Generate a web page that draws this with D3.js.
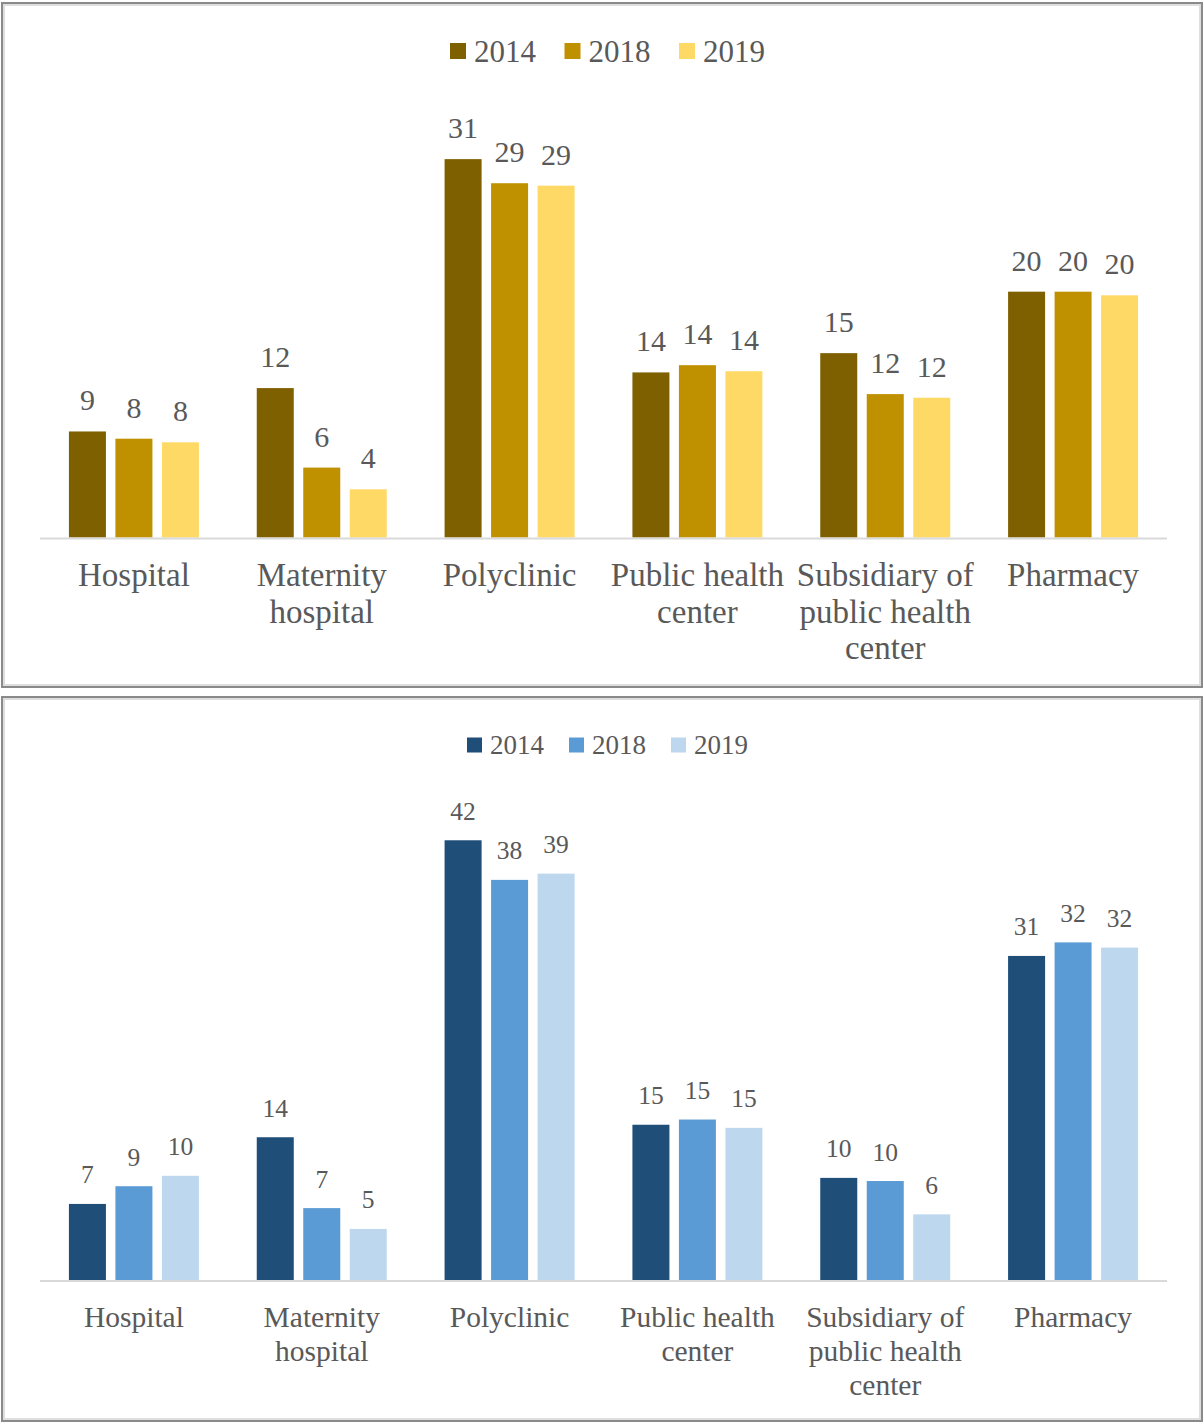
<!DOCTYPE html>
<html>
<head>
<meta charset="utf-8">
<script src="https://cdn.jsdelivr.net/npm/d3@7"></script>
<style>
  body { margin: 0; background: #fff; }
  svg text { font-family: 'Liberation Serif', 'Tinos', 'DejaVu Serif', serif; fill: #595959; }
</style>
</head>
<body>
<div id="chart"></div>
<script>
// categories, each split into the lines shown under the axis
const categories = ["Hospital", "Maternity hospital", "Polyclinic", "Public health center", "Subsidiary of public health center", "Pharmacy"];
const categoryLines = [["Hospital"], ["Maternity", "hospital"], ["Polyclinic"], ["Public health", "center"], ["Subsidiary of", "public health", "center"], ["Pharmacy"]];
const years = ["2014", "2018", "2019"];

// upper panel (gold)
const gold2014 = [8.8, 12.4, 31.4, 13.7, 15.3, 20.4];
const gold2018 = [8.2, 5.8, 29.4, 14.3, 11.9, 20.4];
const gold2019 = [7.9, 4.0, 29.2, 13.8, 11.6, 20.1];

// lower panel (blue)
const blue2014 = [7.3, 13.7, 42.2, 14.9, 9.8, 31.1];
const blue2018 = [9.0, 6.9, 38.4, 15.4, 9.5, 32.4];
const blue2019 = [10.0, 4.9, 39.0, 14.6, 6.3, 31.9];

const width = 1204, height = 1423;

const svg = d3.select("#chart")
    .append("svg")
    .attr("width", width)
    .attr("height", height);

function drawPanel(opt) {
    const g = svg.append("g");

    // frame (dark outer line + light inner line)
    g.append("rect")
        .attr("x", opt.box[0] + 1).attr("y", opt.box[1] + 1)
        .attr("width", opt.box[2] - 2).attr("height", opt.box[3] - 2)
        .attr("fill", "#fff")
        .attr("stroke", "#8a8a8a")
        .attr("stroke-width", 2);
    g.append("rect")
        .attr("x", opt.box[0] + 3).attr("y", opt.box[1] + 3)
        .attr("width", opt.box[2] - 6).attr("height", opt.box[3] - 6)
        .attr("fill", "none")
        .attr("stroke", "#dedede")
        .attr("stroke-width", 2);

    const x = d3.scaleBand()
        .domain(categories)
        .range([40, 1167]);

    const xSub = d3.scaleBand()
        .domain(years)
        .range([0, 130])
        .paddingInner(0.204);

    const y = d3.scaleLinear()
        .domain([0, opt.yMax])
        .range([opt.base, opt.base - opt.yMax * opt.pxPerUnit]);

    const color = d3.scaleOrdinal().domain(years).range(opt.colors);

    const rows = categories.map((c, i) => ({
        cat: c,
        vals: years.map((yr, j) => ({ year: yr, value: opt.series[j][i] }))
    }));

    const groups = g.selectAll("g.cat")
        .data(rows)
        .enter()
        .append("g")
        .attr("class", "cat")
        .attr("transform", d => `translate(${x(d.cat) + (x.bandwidth() - 130) / 2},0)`);

    groups.selectAll("rect")
        .data(d => d.vals)
        .enter()
        .append("rect")
        .attr("x", d => xSub(d.year))
        .attr("y", d => y(d.value))
        .attr("width", xSub.bandwidth())
        .attr("height", d => y(0) - y(d.value))
        .attr("fill", d => color(d.year));

    groups.selectAll("text.val")
        .data(d => d.vals)
        .enter()
        .append("text")
        .attr("class", "val")
        .attr("x", d => xSub(d.year) + xSub.bandwidth() / 2)
        .attr("y", d => y(d.value) - opt.labelGap)
        .attr("text-anchor", "middle")
        .style("font-size", opt.valueFont + "px")
        .text(d => Math.round(d.value));

    // baseline
    g.append("line")
        .attr("x1", x.range()[0]).attr("x2", x.range()[1])
        .attr("y1", y(0) + 1).attr("y2", y(0) + 1)
        .attr("stroke", "#d9d9d9")
        .attr("stroke-width", 2);

    // category labels
    const labels = g.selectAll("text.cat")
        .data(categories)
        .enter()
        .append("text")
        .attr("class", "cat")
        .attr("text-anchor", "middle")
        .style("font-size", opt.catFont + "px");

    labels.selectAll("tspan")
        .data((d, i) => categoryLines[i].map(line => ({ line, cat: d })))
        .enter()
        .append("tspan")
        .attr("x", d => x(d.cat) + x.bandwidth() / 2)
        .attr("y", (d, i) => opt.catY + i * opt.catLine)
        .text(d => d.line);

    // legend
    const legend = g.append("g")
        .attr("transform", `translate(${opt.legendX},${opt.legendY})`);
    const item = legend.selectAll("g")
        .data(years)
        .enter()
        .append("g")
        .attr("transform", (d, i) => `translate(${i * opt.legendStep},0)`);
    item.append("rect")
        .attr("x", 0)
        .attr("y", -opt.legendBox / 2)
        .attr("width", opt.legendBox)
        .attr("height", opt.legendBox)
        .attr("fill", d => color(d));
    item.append("text")
        .attr("x", opt.legendBox + 8)
        .attr("y", opt.legendFont * 0.34)
        .style("font-size", opt.legendFont + "px")
        .text(d => d);
}

drawPanel({
    box: [1, 2, 1202, 686],
    series: [gold2014, gold2018, gold2019],
    colors: ["#7f6000", "#bf9000", "#ffd966"],
    base: 537.5,
    yMax: 35,
    pxPerUnit: 12.05,
    labelGap: 21,
    valueFont: 30,
    catFont: 33,
    catY: 586,
    catLine: 36.5,
    legendX: 450,
    legendY: 51,
    legendStep: 114.5,
    legendBox: 16,
    legendFont: 31
});

drawPanel({
    box: [1, 696, 1202, 726],
    series: [blue2014, blue2018, blue2019],
    colors: ["#1f4e79", "#5b9bd5", "#bdd7ee"],
    base: 1280,
    yMax: 45,
    pxPerUnit: 10.42,
    labelGap: 20.5,
    valueFont: 25.5,
    catFont: 29.5,
    catY: 1327,
    catLine: 34,
    legendX: 467,
    legendY: 745,
    legendStep: 102,
    legendBox: 15,
    legendFont: 27
});
</script>
</body>
</html>
